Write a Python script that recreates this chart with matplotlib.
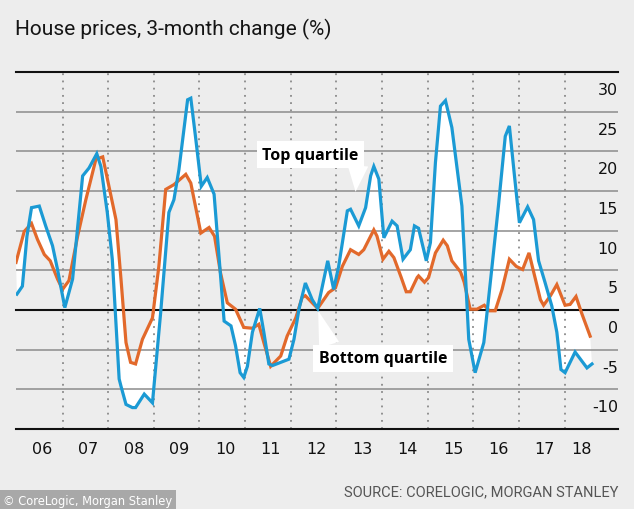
"""
House prices, 3-month change (%) - top vs bottom quartile.
"""

import numpy as np
import matplotlib
matplotlib.use("Agg")
import matplotlib.pyplot as plt
import matplotlib.transforms as mtransforms
from matplotlib import font_manager

# top quartile (blue)
top_x = [2006.00, 2006.12, 2006.22, 2006.32, 2006.49, 2006.63, 2006.78, 2006.89,
         2007.05, 2007.22, 2007.44, 2007.58, 2007.75, 2007.84, 2007.98, 2008.09,
         2008.24, 2008.28, 2008.39, 2008.53, 2008.60, 2008.79, 2008.97, 2009.15,
         2009.33, 2009.44, 2009.55, 2009.74, 2009.81, 2009.92, 2010.04, 2010.17,
         2010.32, 2010.54, 2010.69, 2010.79, 2010.89, 2010.97, 2011.05, 2011.16,
         2011.32, 2011.41, 2011.52, 2011.60, 2011.96, 2012.07, 2012.18, 2012.32,
         2012.47, 2012.59, 2012.81, 2012.94, 2013.05, 2013.24, 2013.31, 2013.49,
         2013.64, 2013.75, 2013.82, 2013.93, 2014.04, 2014.22, 2014.33, 2014.46,
         2014.62, 2014.71, 2014.80, 2014.97, 2015.06, 2015.17, 2015.28, 2015.39,
         2015.53, 2015.75, 2015.90, 2016.04, 2016.23, 2016.41, 2016.55, 2016.70,
         2016.79, 2016.90, 2017.01, 2017.19, 2017.32, 2017.43, 2017.57, 2017.72,
         2017.83, 2017.92, 2018.01, 2018.23, 2018.49, 2018.60]
top_y = [2.0, 3.0, 9.3, 12.9, 13.1, 10.6, 8.1, 5.1,
         0.3, 3.9, 16.9, 17.9, 19.7, 18.1, 12.3, 6.4,
         -8.7, -9.6, -11.9, -12.3, -12.3, -10.6, -11.7, -0.3,
         12.3, 13.9, 17.7, 26.5, 26.7, 21.5, 15.6, 16.7,
         14.6, -1.4, -2.0, -4.5, -7.9, -8.5, -7.1, -2.8,
         0.2, -2.8, -6.8, -7.0, -6.2, -3.7, 0.1, 3.4,
         1.3, 0.2, 6.2, 2.6, 5.5, 12.5, 12.7, 10.6,
         12.9, 16.9, 18.1, 16.5, 9.1, 11.2, 10.6, 6.4,
         7.6, 10.6, 10.3, 6.2, 8.5, 18.6, 25.7, 26.4,
         23.0, 13.1, -3.7, -7.9, -4.1, 5.5, 13.1, 21.9,
         23.2, 17.0, 11.0, 13.0, 11.4, 6.2, 3.5, 0.5,
         -2.8, -7.5, -7.9, -5.3, -7.3, -6.8]

# bottom quartile (orange)
bot_x = [2005.98, 2006.16, 2006.32, 2006.45, 2006.60, 2006.73, 2006.89, 2007.00,
         2007.14, 2007.33, 2007.51, 2007.73, 2007.88, 2008.06, 2008.17, 2008.28,
         2008.39, 2008.49, 2008.60, 2008.75, 2008.97, 2009.11, 2009.26, 2009.44,
         2009.70, 2009.81, 2010.03, 2010.21, 2010.33, 2010.46, 2010.61, 2010.79,
         2010.97, 2011.16, 2011.30, 2011.41, 2011.56, 2011.78, 2011.92, 2012.11,
         2012.25, 2012.32, 2012.47, 2012.59, 2012.83, 2012.98, 2013.13, 2013.31,
         2013.49, 2013.60, 2013.82, 2013.89, 2014.02, 2014.15, 2014.26, 2014.42,
         2014.53, 2014.62, 2014.77, 2014.80, 2014.93, 2015.02, 2015.17, 2015.34,
         2015.43, 2015.53, 2015.72, 2015.80, 2015.93, 2016.08, 2016.24, 2016.35,
         2016.48, 2016.63, 2016.79, 2016.94, 2017.08, 2017.22, 2017.36, 2017.47,
         2017.54, 2017.69, 2017.83, 2018.01, 2018.12, 2018.25, 2018.38, 2018.56]
bot_y = [6.0, 9.9, 10.9, 8.9, 7.0, 6.2, 3.9, 2.6,
         3.7, 9.3, 13.9, 19.0, 19.3, 14.4, 11.4, 3.9,
         -4.1, -6.6, -6.8, -3.7, -1.0, 5.5, 15.2, 15.8,
         17.1, 16.0, 9.7, 10.4, 9.3, 4.7, 0.9, 0.1,
         -2.2, -2.3, -1.8, -4.1, -7.1, -5.8, -3.3, -1.0,
         1.6, 1.8, 0.9, 0.2, 2.2, 2.8, 5.5, 7.6,
         7.0, 7.6, 10.1, 9.3, 6.4, 7.4, 6.6, 4.1,
         2.3, 2.3, 4.1, 4.3, 3.5, 4.1, 7.2, 8.8,
         8.1, 6.2, 4.8, 3.5, 0.1, 0.1, 0.6, -0.1,
         -0.1, 2.6, 6.4, 5.5, 5.1, 7.2, 3.9, 1.3,
         0.6, 1.8, 3.2, 0.6, 0.7, 1.7, -0.5, -3.3]

years = list(range(2006, 2019))
year_labels = ["06", "07", "08", "09", "10", "11", "12", "13", "14", "15", "16", "17", "18"]
y_ticks = [30, 25, 20, 15, 10, 5, 0, -5, -10]

BLUE = "#1b9ad4"
ORANGE = "#e2692b"
BG = "#ededed"


def pick_font(names: list[str]) -> str:
    available = {f.name for f in font_manager.fontManager.ttflist}
    for n in names:
        if n in available:
            return n
    return "DejaVu Sans"


narrow = pick_font(["Liberation Sans Narrow", "DejaVu Sans Condensed", "Roboto"])
label_font = "DejaVu Sans"
bold_font = pick_font(["Open Sans", "Noto Sans"])

fig = plt.figure(figsize=(6.34, 5.10), dpi=100, facecolor=BG)
ax = fig.add_axes([16 / 634, 1 - 430 / 510, 602 / 634, 357 / 510])
ax.set_facecolor(BG)
ax.set_xlim(2005.98, 2019.17)
ax.set_ylim(-15, 30)

# grid lines
for v in [25, 20, 15, 10, 5, -5, -10]:
    ax.axhline(v, color="#8c8c8c", lw=1.1, zorder=2)
for v in [30, 0, -15]:
    ax.axhline(v, color="#111111", lw=1.5, zorder=4, clip_on=False)
for yr in years[1:]:
    ax.axvline(yr, color="#8a8a8a", lw=1.3, linestyle=(0, (1, 3)), zorder=2)

# white area between the two series
poly_x = np.concatenate([top_x, bot_x[::-1]])
poly_y = np.concatenate([top_y, bot_y[::-1]])
ax.fill(poly_x, poly_y, color="white", lw=0, zorder=1)

ax.plot(bot_x, bot_y, color=ORANGE, lw=2.3, zorder=5, solid_joinstyle="miter")
ax.plot(top_x, top_y, color=BLUE, lw=2.3, zorder=6, solid_joinstyle="miter")

for s in ax.spines.values():
    s.set_visible(False)
ax.set_xticks([])
ax.set_yticks([])

# y labels sit just below their grid line, inside the plot on the right
blend = mtransforms.blended_transform_factory(ax.transAxes, ax.transData)
lab_tr = mtransforms.offset_copy(blend, fig=fig, x=0, y=-12.5, units="points")
for v in y_ticks:
    ax.text(1.0, v, str(v), transform=lab_tr, ha="right", va="center",
            fontsize=11.5, family=label_font, color="#111111", zorder=7)

# year labels
lab_x = [yr + 0.56 for yr in years[:-1]] + [2018.38]
for xv, lab in zip(lab_x, year_labels):
    ax.text(xv, -17.4, lab, ha="center", va="center", fontsize=11.5,
            family=label_font, color="#111111", clip_on=False)

# annotation boxes and their white pointers
box = dict(boxstyle="square,pad=0.35", fc="white", ec="none")
wedge = dict(arrowstyle="wedge,tail_width=1.5", fc="white", ec="none",
             shrinkA=0, shrinkB=0, mutation_scale=10)
ax.text(2012.43, 19.6, "Top quartile", fontsize=11.5, fontweight="bold",
        family=bold_font, ha="center", va="center", bbox=box, zorder=8)
ax.annotate("", xy=(2013.42, 14.9), xytext=(2013.47, 18.2),
            arrowprops=wedge, zorder=7)
ax.text(2014.02, -6.1, "Bottom quartile", fontsize=11.5, fontweight="bold",
        family=bold_font, ha="center", va="center", bbox=box, zorder=8)
ax.annotate("", xy=(2012.60, -0.1), xytext=(2012.84, -4.4),
            arrowprops=wedge, zorder=7)

fig.text(15 / 634, 1 - 29 / 510, "House prices, 3-month change (%)", fontsize=15,
         family=narrow, color="#151515", ha="left", va="center")
fig.text(618 / 634, 1 - 492 / 510, "SOURCE: CORELOGIC, MORGAN STANLEY", fontsize=10.5,
         family=narrow, color="#555555", ha="right", va="center")
fig.text(3 / 634, 1 - 502 / 510, "\u00a9 CoreLogic, Morgan Stanley", fontsize=8.3,
         family="DejaVu Sans", color="white", ha="left", va="center",
         bbox=dict(boxstyle="square,pad=0.35", fc="#a8a8a8", ec="none"))

fig.savefig("out.png", dpi=100, facecolor=BG)
